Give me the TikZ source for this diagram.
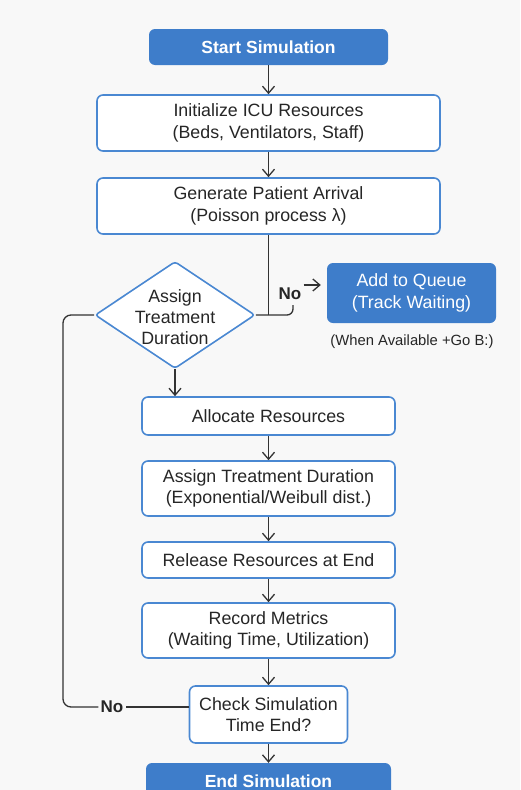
\documentclass[tikz,border=0pt]{standalone}
\usepackage{fontspec}
\setmainfont{Liberation Sans}
\usetikzlibrary{shapes.geometric,arrows.meta,positioning}

\definecolor{flowblue}{HTML}{3E7DCA}
\definecolor{edgeblue}{HTML}{4A88D2}
\definecolor{linegray}{HTML}{333333}
\definecolor{paper}{HTML}{F8F8F8}

\tikzset{
  procbox/.style={draw=edgeblue, line width=1.6pt, fill=white, rounded corners=6pt,
    align=center, inner sep=0pt, text=black!85, font=\fontsize{17.8}{21.5}\selectfont},
  termbox/.style={fill=flowblue, rounded corners=6pt, align=center, inner sep=0pt,
    text=white, font=\fontsize{17.5}{21}\selectfont\bfseries},
  flowline/.style={draw=linegray, line width=1.3pt},
  flowarrow/.style={flowline, -{Straight Barb[length=7pt,width=12pt]}},
  nolabel/.style={font=\fontsize{17}{20}\selectfont\bfseries, text=black!85, inner sep=2pt},
}

\begin{document}
\begin{tikzpicture}[x=1pt,y=-1pt]
  \fill[paper, use as bounding box] (0,0) rectangle (520,790);
  \clip (0,0) rectangle (520,790);

  % main column
  \node[termbox, minimum width=239pt, minimum height=36pt] (start) at (268.5,47) {Start Simulation};
  \node[procbox, minimum width=343pt, minimum height=56pt] (init) at (268.5,123) {Initialize ICU Resources\\(Beds, Ventilators, Staff)};
  \node[procbox, minimum width=343pt, minimum height=56pt] (gen) at (268.5,206) {Generate Patient Arrival\\(Poisson process λ)};

  % decision and queue
  \node[diamond, draw=edgeblue, line width=1.6pt, fill=white, rounded corners=3pt,
    minimum width=160pt, minimum height=107pt, inner sep=0pt] (dia) at (175,315) {};
  \node[align=center, text=black!85, font=\fontsize{17.8}{21}\selectfont] (diatxt) at (175,317) {Assign\\Treatment\\Duration};
  \node[termbox, font=\fontsize{17.8}{21.5}\selectfont, minimum width=169pt, minimum height=60pt] (queue) at (411.5,293) {Add to Queue\\(Track Waiting)};
  \node[text=black!85, font=\fontsize{14.8}{17}\selectfont] (avail) at (412,342) {(When Available +Go B:)};

  \node[procbox, minimum width=253pt, minimum height=38pt] (alloc) at (268.5,416) {Allocate Resources};
  \node[procbox, minimum width=253pt, minimum height=55pt] (assign) at (268.5,488.5) {Assign Treatment Duration\\(Exponential/Weibull dist.)};
  \node[procbox, minimum width=253pt, minimum height=36pt] (release) at (268.5,560) {Release Resources at End};
  \node[procbox, minimum width=253pt, minimum height=55pt] (record) at (268.5,630.5) {Record Metrics\\(Waiting Time, Utilization)};
  \node[procbox, minimum width=158pt, minimum height=57pt] (check) at (268.5,714.5) {Check Simulation\\Time End?};
  \node[termbox, minimum width=245pt, minimum height=36pt] (finish) at (268.5,781) {End Simulation};

  % labels on the branches
  \node[nolabel] (nolbl) at (290,294) {No};
  \node[nolabel, fill=paper] (nolbl2) at (112,707) {No};

  \coordinate (join) at (gen.south |- dia.east);
  \coordinate (bend) at (293,305);
  \coordinate (noarr) at ([yshift=9pt]nolbl.east);
  \coordinate (loopx) at (63,0);
  \coordinate (loopin) at ([yshift=7.5pt]check.west);

  \draw[flowarrow] (start) -- (init);
  \draw[flowarrow] (init) -- (gen);
  \draw[flowline] (gen) -- (join);
  \draw[flowline, rounded corners=6pt] (dia.east) -- (join) -- (bend |- join) -- (bend);
  \draw[flowarrow, shorten >=6pt] (noarr) -- (noarr -| queue.west);
  \draw[flowarrow] (dia.south) -- (dia.south |- alloc.north);
  \draw[flowarrow] (alloc) -- (assign);
  \draw[flowarrow] (assign) -- (release);
  \draw[flowarrow] (release) -- (record);
  \draw[flowarrow] (record) -- (check);
  \draw[flowarrow] (check) -- (finish);

  % loop back
  \draw[flowline] (loopin) -- (nolbl2.east);
  \draw[flowline, rounded corners=8pt] (nolbl2.west) -- (nolbl2.west -| loopx) -- (loopx |- dia.west) -- (dia.west);
\end{tikzpicture}
\end{document}
